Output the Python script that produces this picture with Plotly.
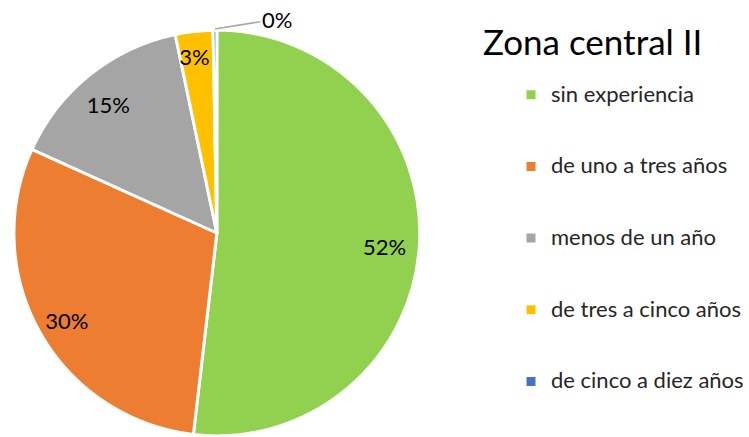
import math
import plotly.graph_objects as go

categories = ["sin experiencia", "de uno a tres años", "menos de un año",
              "de tres a cinco años", "de cinco a diez años"]
values = [52, 30, 15, 3, 0.3]
colors = ["#92D050", "#ED7D31", "#A5A5A5", "#FFC000", "#4472C4"]
title_text = "Zona central II"

W, H = 749, 437
FONT = "Lato, Calibri, Carlito, sans-serif"

# pie geometry (pixels): centre and radius
CX, CY, R = 218, 233, 204
dom_x = [(CX - R) / W, (CX + R) / W]
dom_y = [(H - CY - R) / H, (H - CY + R) / H]
# label ring sits slightly lower/left, like the reference label placement
LX, LY, LR = CX - 2, CY + 4, 200
lab_x = [(LX - LR) / W, (LX + LR) / W]
lab_y = [max(0.0, (H - LY - LR) / H), (H - LY + LR) / H]

legend_labels = [" <br><span style='font-size:22px'>" + c + "</span><br> "
                 for c in categories]

total = sum(values)
pct_text = ["%{percent:.0%}"] * 4 + [""]

fig = go.Figure()
# main coloured pie
fig.add_trace(go.Pie(
    labels=legend_labels,
    values=values,
    sort=False,
    direction="clockwise",
    rotation=0,
    marker=dict(colors=colors, line=dict(color="white", width=3)),
    textinfo="none",
    hoverinfo="label+percent",
    domain=dict(x=dom_x, y=dom_y),
))
# transparent ring used only to place the data labels near the outer edge
fig.add_trace(go.Pie(
    labels=categories,
    values=values,
    sort=False,
    direction="clockwise",
    rotation=0,
    hole=0.71,
    marker=dict(colors=["rgba(0,0,0,0)"] * 5, line=dict(width=0)),
    texttemplate=pct_text,
    textposition="inside",
    insidetextorientation="horizontal",
    textfont=dict(family=FONT, size=22, color="#000000"),
    hoverinfo="skip",
    showlegend=False,
    domain=dict(x=lab_x, y=lab_y),
))

# outside label (with leader line) for the tiny last slice
cum_before = sum(values[:4])
theta = 2 * math.pi * (cum_before + values[4] / 2) / total
tip_x = CX + R * math.sin(theta)
tip_y = CY - R * math.cos(theta)
fig.add_annotation(
    x=tip_x / W, y=1 - tip_y / H, xref="paper", yref="paper",
    text=f"{values[4] / total:.0%}",
    showarrow=True, arrowhead=0, arrowwidth=1.5, arrowcolor="#A6A6A6",
    ax=62, ay=-10, standoff=0, startstandoff=0,
    font=dict(family=FONT, size=22, color="#000000"),
)

fig.update_layout(
    width=W, height=H,
    margin=dict(l=0, r=0, t=0, b=0),
    paper_bgcolor="white",
    plot_bgcolor="white",
    uniformtext=dict(minsize=22, mode="show"),
    title=dict(text=title_text, x=483 / W, xanchor="left",
               y=(H - 43) / H, yanchor="middle",
               font=dict(family=FONT, size=35, color="#000000")),
    showlegend=True,
    legend=dict(x=514 / W, xanchor="left", y=(H - 54) / H, yanchor="top",
                font=dict(family=FONT, size=17.6, color="#262626"),
                bgcolor="rgba(0,0,0,0)", itemclick=False),
    font=dict(family=FONT),
)

fig.write_html("out.html",
               config={"displayModeBar": False},
               post_script="document.body.style.margin='0';"
                           "document.body.style.overflow='hidden';")
